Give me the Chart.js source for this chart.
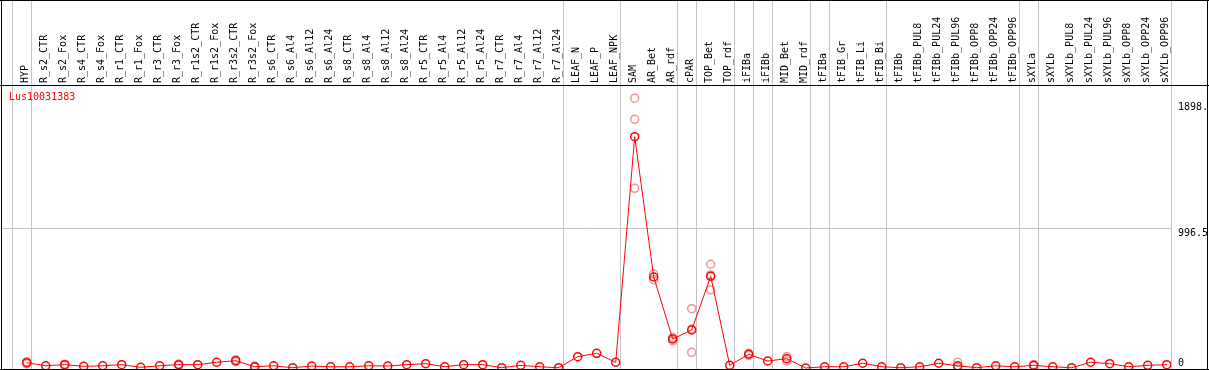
<!DOCTYPE html>
<html>
<head>
<meta charset="utf-8">
<script src="https://cdn.jsdelivr.net/npm/chart.js@4/dist/chart.umd.min.js"></script>
<style>
  html, body { margin: 0; padding: 0; background: #fff; }
  #wrap { width: 1209px; height: 370px; }
</style>
</head>
<body>
<div id="wrap"><canvas id="chart" width="1209" height="370"></canvas></div>
<script>
// sample names, in column order
const categories = [
  'HYP',
  'R_s2_CTR', 'R_s2_Fox', 'R_s4_CTR', 'R_s4_Fox', 'R_r1_CTR', 'R_r1_Fox', 'R_r3_CTR', 'R_r3_Fox',
  'R_r1s2_CTR', 'R_r1s2_Fox', 'R_r3s2_CTR', 'R_r3s2_Fox',
  'R_s6_CTR', 'R_s6_Al4', 'R_s6_Al12', 'R_s6_Al24',
  'R_s8_CTR', 'R_s8_Al4', 'R_s8_Al12', 'R_s8_Al24',
  'R_r5_CTR', 'R_r5_Al4', 'R_r5_Al12', 'R_r5_Al24',
  'R_r7_CTR', 'R_r7_Al4', 'R_r7_Al12', 'R_r7_Al24',
  'LEAF_N', 'LEAF_P', 'LEAF_NPK',
  'SAM', 'AR_Bet', 'AR_rdf', 'cPAR', 'TOP_Bet', 'TOP_rdf', 'iFIBa', 'iFIBb', 'MID_Bet', 'MID_rdf',
  'tFIBa', 'tFIB_Gr', 'tFIB_Li', 'tFIB_Bi',
  'tFIBb', 'tFIBb_PUL8', 'tFIBb_PUL24', 'tFIBb_PUL96', 'tFIBb_OPP8', 'tFIBb_OPP24', 'tFIBb_OPP96',
  'sXYLa', 'sXYLb', 'sXYLb_PUL8', 'sXYLb_PUL24', 'sXYLb_PUL96', 'sXYLb_OPP8', 'sXYLb_OPP24', 'sXYLb_OPP96'
];

// mean expression per sample
const meanValues = [
  38,
  16, 24, 12, 16, 24, 5, 16, 24,
  24, 41, 52, 9,
  16, 2, 14, 9,
  9, 16, 14, 24,
  31, 9, 24, 24,
  2, 19, 9, 2,
  81, 105, 41,
  1650, 649, 207, 271, 654, 19, 98, 50, 66, 0,
  9, 9, 34, 9,
  2, 9, 34, 16, 2, 16, 9,
  19, 9, 2, 41, 31, 9, 19, 24
];

// single replicates (column index + value)
const repIndex = [0, 0, 2, 2, 8, 8, 11, 11, 12, 12,
  32, 32, 32, 33, 33, 34, 34, 35, 35, 35, 36, 36, 36,
  38, 38, 40, 40, 49, 49, 53, 53];
const repValues = [45, 30, 27, 20, 28, 19, 58, 46, 14, 5,
  1925, 1774, 1282, 670, 630, 217, 195, 423, 112, 278, 740, 558, 664,
  105, 90, 81, 50, 41, 5, 25, 14];

// last column of each sample group (vertical separators)
const groupEnds = [-1, 0, 28, 31, 34, 35, 37, 38, 39, 41, 42, 45, 52, 53, 60];

const yTicks = [0, 996.5, 1898];
const yTickLabels = ['0', '996.5', '1898.'];
const geneName = 'Lus10031383';

const monoFont = { family: '"DejaVu Sans Mono", monospace', size: 10 };

const framePlugin = {
  id: 'frame',
  beforeDatasetsDraw(chart) {
    const ctx = chart.ctx;
    const xs = chart.scales.x;
    const area = chart.chartArea;
    ctx.save();
    ctx.strokeStyle = '#c4c4c4';
    ctx.lineWidth = 1;
    groupEnds.forEach(function (g) {
      const px = Math.round(xs.getPixelForValue(g + 0.2)) + 0.5;
      ctx.beginPath();
      ctx.moveTo(px, 0);
      ctx.lineTo(px, area.bottom);
      ctx.stroke();
    });
    ctx.fillStyle = '#ff0000';
    ctx.font = '10px "DejaVu Sans Mono", monospace';
    ctx.textBaseline = 'top';
    ctx.fillText(geneName, 9, 92);
    ctx.restore();
  },
  afterDraw(chart) {
    const ctx = chart.ctx;
    ctx.save();
    ctx.fillStyle = '#000';
    ctx.fillRect(0, 0, 1209, 1);
    ctx.fillRect(0, 85, 1209, 1);
    ctx.fillRect(0, 369, 1209, 1);
    ctx.fillRect(1, 0, 1, 370);
    ctx.fillRect(1207, 0, 1, 370);
    ctx.restore();
  }
};

function noPad(s) {
  s.paddingTop = 0;
  s.paddingBottom = 0;
  s.paddingLeft = 0;
  s.paddingRight = 0;
}

new Chart(document.getElementById('chart'), {
  type: 'line',
  data: {
    datasets: [
      {
        label: 'mean',
        data: meanValues.map((v, i) => ({ x: i, y: v })),
        borderColor: '#ff0000',
        borderWidth: 1,
        pointRadius: 4,
        pointBorderWidth: 1.5,
        pointBorderColor: '#ff0000',
        pointBackgroundColor: 'rgba(0,0,0,0)',
        tension: 0
      },
      {
        label: 'replicates',
        data: repIndex.map((x, k) => ({ x: x, y: repValues[k] })),
        showLine: false,
        pointRadius: 4,
        pointBorderWidth: 1.5,
        pointBorderColor: 'rgba(236,130,130,0.85)',
        pointBackgroundColor: 'rgba(0,0,0,0)'
      }
    ]
  },
  options: {
    responsive: false,
    animation: false,
    layout: { autoPadding: false, padding: { left: 2, right: 0, top: 0, bottom: 1 } },
    plugins: { legend: { display: false }, tooltip: { enabled: false }, title: { display: false } },
    scales: {
      x: {
        type: 'linear',
        position: 'top',
        min: -1.3,
        max: 60.226,
        afterBuildTicks: (s) => { s.ticks = categories.map((c, i) => ({ value: i })); },
        afterFit: (s) => { s.height = 86; noPad(s); },
        grid: { display: false, drawTicks: false, tickLength: 0 },
        border: { display: false },
        ticks: {
          autoSkip: false,
          minRotation: 90,
          maxRotation: 90,
          padding: 3,
          labelOffset: 11,
          color: '#000',
          font: monoFont,
          callback: (v) => categories[v]
        }
      },
      y: {
        type: 'linear',
        position: 'right',
        min: -7.13,
        max: 2011.5,
        afterBuildTicks: (s) => { s.ticks = yTicks.map((v) => ({ value: v })); },
        afterFit: (s) => { s.width = 38; noPad(s); },
        grid: {
          drawTicks: false,
          color: (c) => (c.tick && c.tick.value === 996.5 ? '#c4c4c4' : 'rgba(0,0,0,0)')
        },
        border: { display: false },
        ticks: {
          padding: 7,
          color: '#000',
          font: { family: monoFont.family, size: 10, lineHeight: 1 },
          callback: (v) => {
            const t = yTickLabels[yTicks.indexOf(v)];
            return v === 0 ? [t, ''] : ['', t];
          }
        }
      }
    }
  },
  plugins: [framePlugin]
});
</script>
</body>
</html>
